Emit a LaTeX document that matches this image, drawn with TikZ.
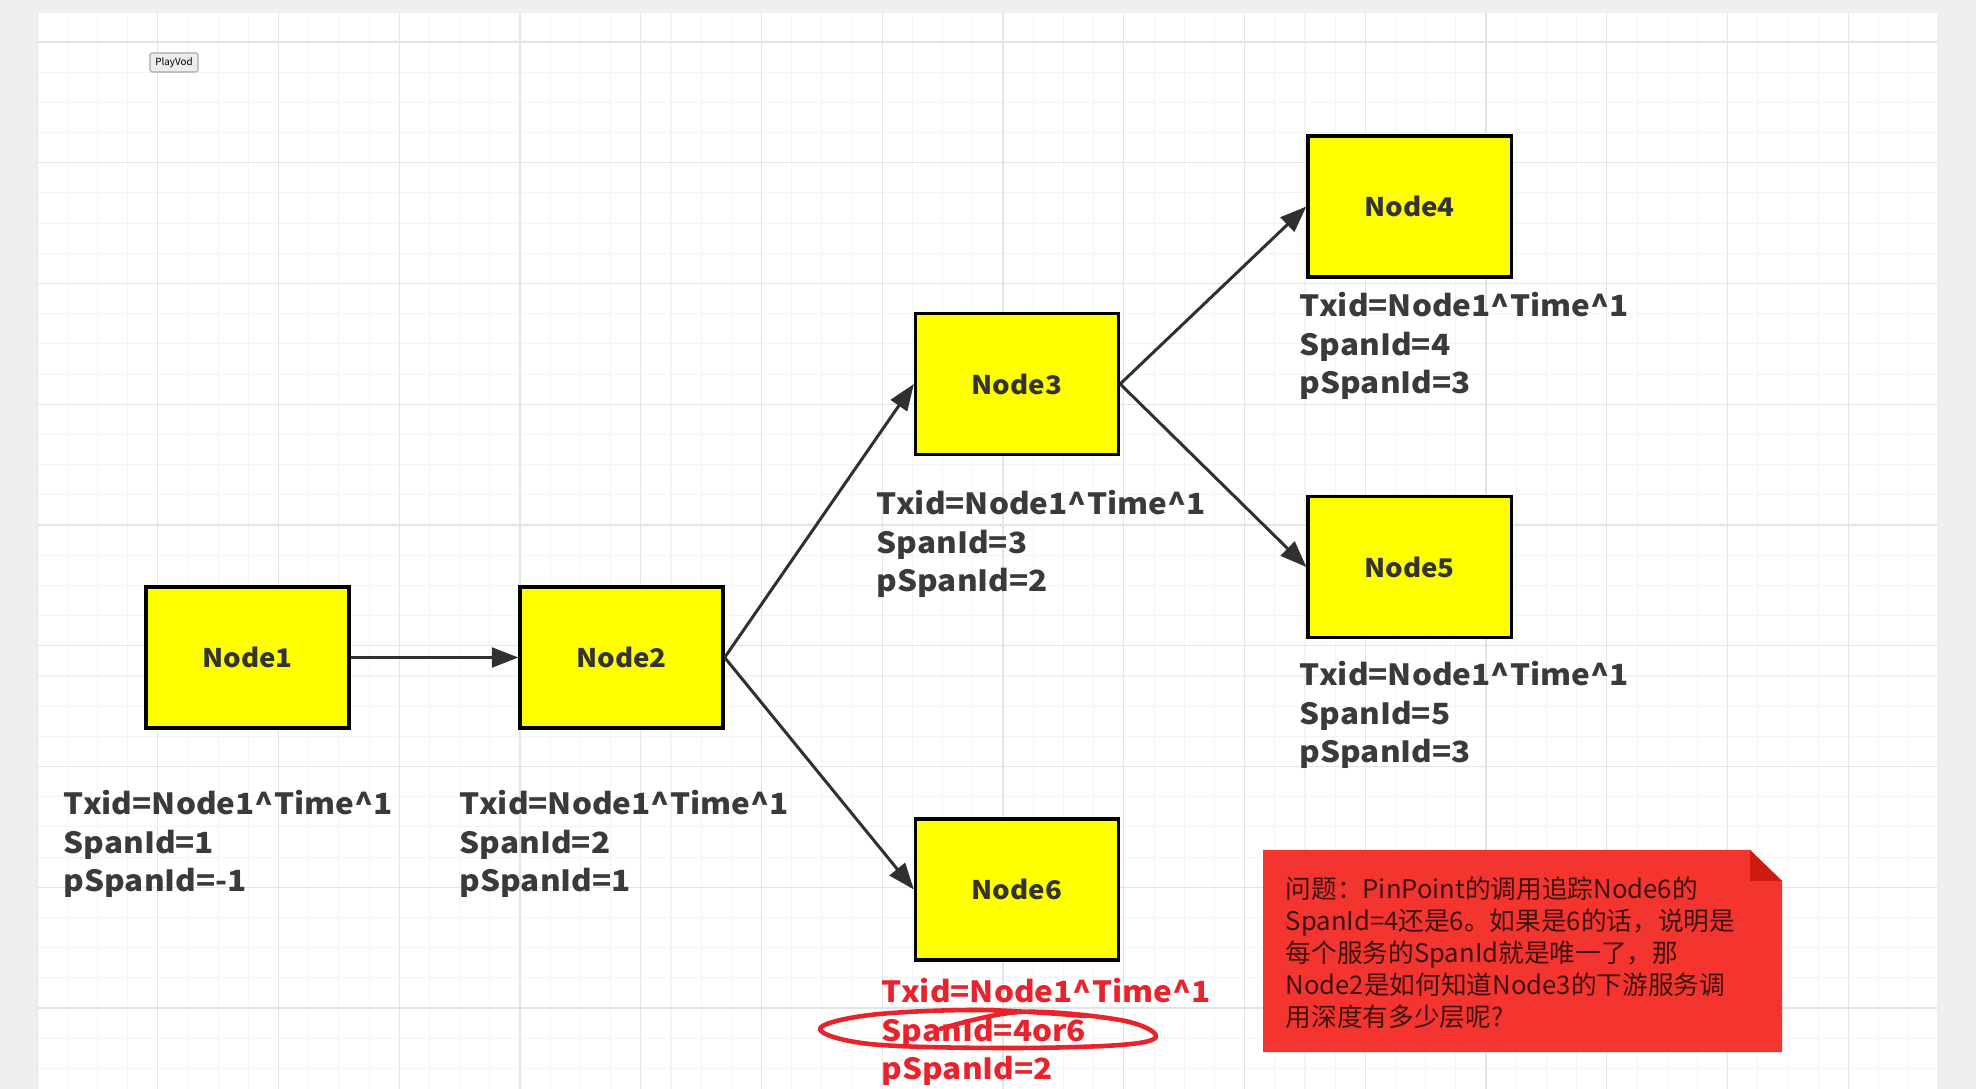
\documentclass[tikz,border=0pt]{standalone}
\usepackage{fontspec}
\setmainfont{Noto Sans CJK SC}
\newfontfamily\lblfont{Noto Sans CJK SC}[FakeStretch=1.08]
\usetikzlibrary{arrows.meta}

\definecolor{outside}{HTML}{EFEFEF}
\definecolor{gridminor}{HTML}{F4F4F4}
\definecolor{gridmajor}{HTML}{E4E4E4}
\definecolor{boxyellow}{HTML}{FFFF00}
\definecolor{linegray}{HTML}{303030}
\definecolor{textgray}{HTML}{3A3A3A}
\definecolor{notered}{HTML}{F4352F}
\definecolor{notefold}{HTML}{CE1A10}
\definecolor{notetext}{HTML}{3E1210}
\definecolor{markred}{HTML}{E8232B}

\tikzset{
  nodebox/.style={draw=black, line width=0.9pt, fill=boxyellow, minimum width=2.03cm, minimum height=1.41cm, inner sep=0pt, text=black!80, font=\lblfont\bfseries\fontsize{7.3}{9}\selectfont},
  call/.style={draw=linegray, line width=0.85pt, -{Triangle[length=7.5pt,width=5.6pt]}},
  info/.style={anchor=north west, inner sep=0pt, align=left, text=textgray, font=\lblfont\bfseries\fontsize{8.3}{10.95}\selectfont},
  scribble/.style={draw=markred, line width=1.3pt, line cap=round, line join=round},
  notetxt/.style={anchor=north west, inner sep=0pt, align=left, text=notetext, font=\fontsize{7.3}{9.1}\selectfont},
  playbtn/.style={draw=black!35, fill=black!7, rounded corners=0.5pt, line width=0.3pt, minimum width=0.48cm, minimum height=0.19cm, inner sep=0pt, font=\fontsize{2.8}{3}\selectfont},
}

\begin{document}
\begin{tikzpicture}[x=0.01cm, y=-0.01cm]
        \useasboundingbox (0,0) rectangle (1976,1089);
        % canvas
        \fill[outside] (0,0) rectangle (1976,1089);
        \fill[white] (37,13) rectangle (1937,1089);
        % grid
        \begin{scope}
        \clip (37,13) rectangle (1937,1089);
        \foreach \gx in {0,...,63} \draw[gridminor, line width=0.3pt] ({37+30.19*\gx},13) -- ({37+30.19*\gx},1089);
        \foreach \gy in {0,...,36} \draw[gridminor, line width=0.3pt] (37,{11.8+30.19*\gy}) -- (1937,{11.8+30.19*\gy});
        \foreach \gx in {0,...,15} \draw[gridmajor, line width=0.4pt] ({37+120.75*\gx},13) -- ({37+120.75*\gx},1089);
        \foreach \gy in {0,...,8} \draw[gridmajor, line width=0.4pt] (37,{42+120.75*\gy}) -- (1937,{42+120.75*\gy});
        \end{scope}
        \node[playbtn] (play) at (174,62.5) {PlayVod};
        % node
        \node[nodebox] (n1) at (247.5,657.5) {Node1};
        \node[nodebox] (n2) at (621.5,657.5) {Node2};
        \node[nodebox] (n3) at (1017,384) {Node3};
        \node[nodebox] (n4) at (1409.5,206.5) {Node4};
        \node[nodebox] (n5) at (1409.5,567) {Node5};
        \node[nodebox] (n6) at (1017,889.5) {Node6};
        % arrow
        \draw[call] (n1.east) -- (n2.west);
        \draw[call] (n2.east) -- (n3.west);
        \draw[call] (n2.east) -- (n6.west);
        \draw[call] (n3.east) -- (n4.west);
        \draw[call] (n3.east) -- (n5.west);
        % text
        \node[info] (t1) at (63,790) {Txid=Node1\textasciicircum Time\textasciicircum 1\\SpanId=1\\pSpanId=-1};
        \node[info] (t2) at (459,790) {Txid=Node1\textasciicircum Time\textasciicircum 1\\SpanId=2\\pSpanId=1};
        \node[info] (t3) at (876,490) {Txid=Node1\textasciicircum Time\textasciicircum 1\\SpanId=3\\pSpanId=2};
        \node[info] (t4) at (1299,292) {Txid=Node1\textasciicircum Time\textasciicircum 1\\SpanId=4\\pSpanId=3};
        \node[info] (t5) at (1299,661) {Txid=Node1\textasciicircum Time\textasciicircum 1\\SpanId=5\\pSpanId=3};
        \node[info, text=markred] (t6) at (881,978) {Txid=Node1\textasciicircum Time\textasciicircum 1\\SpanId=4or6\\pSpanId=2};
        % circle
        \draw[scribble] plot[smooth, tension=0.6] coordinates {(1085,1016) (980,1010) (870,1015) (820,1029) (870,1044) (1000,1048) (1120,1045) (1156,1036) (1120,1020) (1020,1012) (940,1029)};
        % note
        \fill[notered] (1263,850) -- (1750,850) -- (1782,881) -- (1782,1052) -- (1263,1052) -- cycle;
        \fill[notefold] (1750,850) -- (1750,881) -- (1782,881) -- cycle;
        \node[notetxt] (q) at (1285,876) {问题：PinPoint的调用追踪Node6的\\SpanId=4还是6。如果是6的话，说明是\\每个服务的SpanId就是唯一了，那\\Node2是如何知道Node3的下游服务调\\用深度有多少层呢?};
    \end{tikzpicture}
\end{document}
